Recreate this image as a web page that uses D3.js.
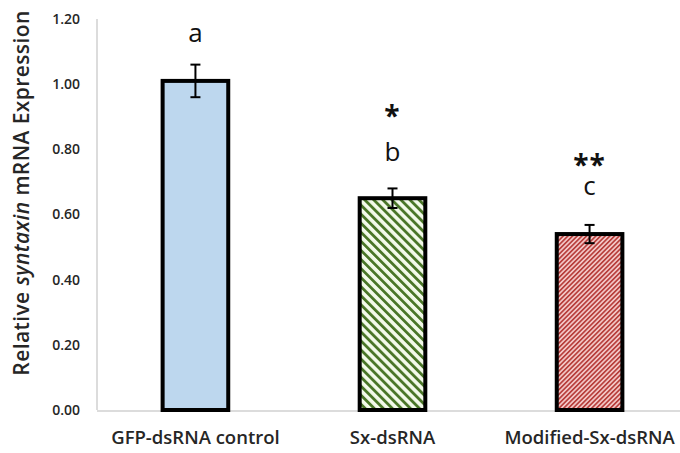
<!DOCTYPE html>
<html>
<head>
<meta charset="utf-8">
<script src="https://cdn.jsdelivr.net/npm/d3@7"></script>
<style>
  html, body { margin: 0; padding: 0; background: #fff; }
  svg { display: block; font-family: "Open Sans", sans-serif; }
</style>
</head>
<body>
<svg id="chart" width="680" height="453"></svg>
<script>
// Relative syntaxin expression by treatment
const categories = ["GFP-dsRNA control", "Sx-dsRNA", "Modified-Sx-dsRNA"];
const means = [1.01, 0.65, 0.54];
const errors = [0.05, 0.03, 0.028];
const groupLetters = ["a", "b", "c"];
const stars = ["", "*", "**"];
const yTicks = [0, 0.2, 0.4, 0.6, 0.8, 1.0, 1.2];

const FONT = "'Open Sans', Lato, sans-serif";
const svg = d3.select("#chart");
const margin = { left: 97, right: -8, top: 19, bottom: 43 };
const W = 680, H = 453;

const x = d3.scaleBand()
  .domain(categories)
  .range([margin.left, W - margin.right])
  .paddingInner(0.667)
  .paddingOuter(0.333);

const y = d3.scaleLinear()
  .domain([0, 1.2])
  .range([H - margin.bottom, margin.top]);

// Fill patterns for the hatched bars
const defs = svg.append("defs");
function stripes(id, angle, period, bg, fg, lineW) {
  const p = defs.append("pattern")
    .attr("id", id)
    .attr("patternUnits", "userSpaceOnUse")
    .attr("width", period).attr("height", period)
    .attr("patternTransform", `rotate(${angle})`);
  p.append("rect").attr("width", period).attr("height", period).attr("fill", bg);
  p.append("rect").attr("width", lineW).attr("height", period).attr("fill", fg);
}
stripes("hatchGreen", -45, 6.4, "#f3faea", "#4a7628", 2.8);
stripes("hatchRed", 45, 3.3, "#f4caca", "#b8403d", 1.7);
const fills = ["#bdd7ee", "url(#hatchGreen)", "url(#hatchRed)"];

// Axis lines
const axisColor = "#d0d0d0";
svg.append("line")
  .attr("x1", margin.left).attr("x2", margin.left)
  .attr("y1", y(1.2)).attr("y2", y(0))
  .attr("stroke", axisColor).attr("stroke-width", 1.5);
svg.append("line")
  .attr("x1", margin.left).attr("x2", W)
  .attr("y1", y(0) + 1).attr("y2", y(0) + 1)
  .attr("stroke", axisColor).attr("stroke-width", 1.5);

// Y tick labels
const yAxis = d3.axisLeft(y).tickValues(yTicks).tickFormat(d3.format(".2f")).tickSize(0).tickPadding(17);
const gy = svg.append("g").attr("transform", `translate(${margin.left},0)`).call(yAxis);
gy.select(".domain").remove();
gy.selectAll("text")
  .attr("font-size", 14).attr("font-weight", 600).attr("fill", "#262626")
  .attr("font-family", FONT);

// X category labels
const xAxis = d3.axisBottom(x).tickSize(0).tickPadding(21);
const gx = svg.append("g").attr("transform", `translate(0,${y(0)})`).call(xAxis);
gx.select(".domain").remove();
gx.selectAll("text")
  .attr("font-size", 18.5).attr("font-weight", 600).attr("fill", "#262626")
  .attr("font-family", FONT);

// Bars
const data = categories.map((c, i) => ({ c, m: means[i], e: errors[i], f: fills[i], l: groupLetters[i], s: stars[i] }));
svg.append("g").selectAll("rect").data(data).join("rect")
  .attr("x", d => x(d.c))
  .attr("y", d => y(d.m))
  .attr("width", x.bandwidth())
  .attr("height", d => y(0) - y(d.m))
  .attr("fill", d => d.f)
  .attr("stroke", "#000")
  .attr("stroke-width", 4);

// Error bars
const eg = svg.append("g").attr("stroke", "#000").attr("stroke-width", 2);
data.forEach(d => {
  const cx = x(d.c) + x.bandwidth() / 2;
  eg.append("line").attr("x1", cx).attr("x2", cx).attr("y1", y(d.m + d.e)).attr("y2", y(d.m - d.e));
  eg.append("line").attr("x1", cx - 5).attr("x2", cx + 5).attr("y1", y(d.m + d.e)).attr("y2", y(d.m + d.e));
  eg.append("line").attr("x1", cx - 5).attr("x2", cx + 5).attr("y1", y(d.m - d.e)).attr("y2", y(d.m - d.e));
});

// Significance stars and group letters, stacked in one label per bar
const letterY = [42, 161, 195];
const starY = [0, 126, 175];
data.forEach((d, i) => {
  const cx = x(d.c) + x.bandwidth() / 2;
  const t = svg.append("text")
    .attr("text-anchor", "middle").attr("fill", "#111")
    .attr("font-family", FONT);
  if (d.s) {
    t.append("tspan").attr("x", cx).attr("y", starY[i])
      .attr("font-size", 28).attr("font-weight", "bold").attr("letter-spacing", 1)
      .text(d.s);
  }
  t.append("tspan").attr("x", cx).attr("y", letterY[i])
    .attr("font-size", 26)
    .text(d.l);
});

// Y axis title
const title = svg.append("text")
  .attr("transform", `translate(29,193) rotate(-90)`)
  .attr("text-anchor", "middle")
  .attr("font-size", 21).attr("font-weight", 600).attr("fill", "#262626")
  .attr("letter-spacing", 0.4)
  .attr("font-family", FONT);
title.append("tspan").text("Relative ");
title.append("tspan").attr("font-style", "italic").text("syntaxin");
title.append("tspan").text(" mRNA Expression");
</script>
</body>
</html>
